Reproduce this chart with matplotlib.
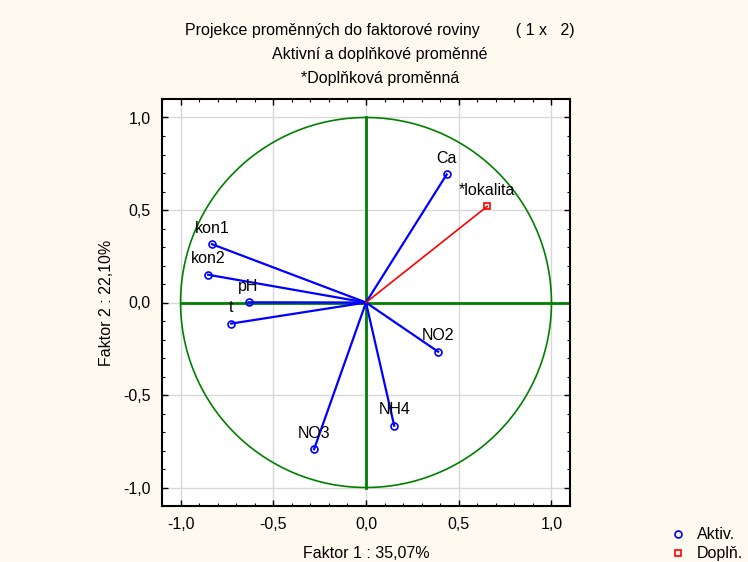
import numpy as np
import matplotlib.pyplot as plt
from matplotlib.ticker import MultipleLocator

plt.rcParams['font.family'] = ['Liberation Sans', 'DejaVu Sans']

# aktivni promenne
active_names = ['Ca', 'kon1', 'kon2', 'pH', 't', 'NO2', 'NH4', 'NO3']
active_f1 = [0.435, -0.830, -0.851, -0.633, -0.727, 0.389, 0.152, -0.280]
active_f2 = [0.692, 0.315, 0.150, 0.001, -0.114, -0.266, -0.666, -0.793]

# doplnkove promenne
supp_names = ['*lokalita']
supp_f1 = [0.654]
supp_f2 = [0.520]

ticks = [-1.0, -0.5, 0.0, 0.5, 1.0]
tick_labels = ['-1,0', '-0,5', '0,0', '0,5', '1,0']

fig = plt.figure(figsize=(7.48, 5.62), dpi=100, facecolor='#fffaf0')
ax = fig.add_axes([162 / 748, 56 / 562, 408 / 748, 407 / 562])
ax.set_facecolor('white')

# jednotkova kruznice a osy
theta = np.linspace(0, 2 * np.pi, 400)
ax.plot(np.cos(theta), np.sin(theta), color='#008000', lw=1.2, zorder=2)
ax.plot([-1, 1.1], [0, 0], color='#008000', lw=2, zorder=2)
ax.plot([0, 0], [-1, 1], color='#008000', lw=2, zorder=2)

for x, y in zip(active_f1, active_f2):
    ax.plot([0, x], [0, y], color='blue', lw=1.6, zorder=3)
ax.plot(active_f1, active_f2, 'o', ms=5, mfc='none', mec='blue', mew=1.2,
        zorder=4, label='Aktiv.')
for name, x, y in zip(active_names, active_f1, active_f2):
    ax.annotate(name, (x, y), xytext=(0, 6), textcoords='offset points',
                ha='center', va='bottom', fontsize=11.5, zorder=5)

for x, y in zip(supp_f1, supp_f2):
    ax.plot([0, x], [0, y], color='red', lw=1.2, zorder=3)
ax.plot(supp_f1, supp_f2, 's', ms=5, mfc='none', mec='red', mew=1.2,
        zorder=4, label='Doplň.')
for name, x, y in zip(supp_names, supp_f1, supp_f2):
    ax.annotate(name, (x, y), xytext=(0, 6), textcoords='offset points',
                ha='center', va='bottom', fontsize=11.5, zorder=5)

ax.set_xlim(-1.1, 1.1)
ax.set_ylim(-1.1, 1.1)
ax.set_xticks(ticks)
ax.set_yticks(ticks)
ax.set_xticklabels(tick_labels)
ax.set_yticklabels(tick_labels)
ax.xaxis.set_minor_locator(MultipleLocator(0.1))
ax.yaxis.set_minor_locator(MultipleLocator(0.1))
ax.tick_params(which='both', direction='in', top=True, right=True,
               labelsize=11.5, color='black')
ax.tick_params(which='major', length=4, width=1, pad=8)
ax.tick_params(which='minor', length=2, width=0.8)
ax.grid(True, which='major', color='#d8d8d8', lw=1, zorder=0)
ax.set_axisbelow(True)
for sp in ax.spines.values():
    sp.set_linewidth(1.5)

ax.set_xlabel('Faktor 1 : 35,07%', fontsize=11.5, labelpad=10)
ax.set_ylabel('Faktor 2 : 22,10%', fontsize=11.5, labelpad=7)

fig.text(380 / 748, 1 - 30 / 562,
         'Projekce proměnných do faktorové roviny        ( 1 x   2)',
         ha='center', va='center', fontsize=11.5)
fig.text(380 / 748, 1 - 55 / 562, 'Aktivní a doplňkové proměnné',
         ha='center', va='center', fontsize=11.5)
fig.text(380 / 748, 1 - 79 / 562, '*Doplňková proměnná',
         ha='center', va='center', fontsize=11.5)

fig.legend(loc='lower right', bbox_to_anchor=(1.004, -0.013), frameon=False,
           fontsize=11.5, handletextpad=0.4, borderaxespad=0.1,
           labelspacing=0.25, handlelength=1.5)

fig.savefig('out.png', dpi=100, facecolor=fig.get_facecolor())
